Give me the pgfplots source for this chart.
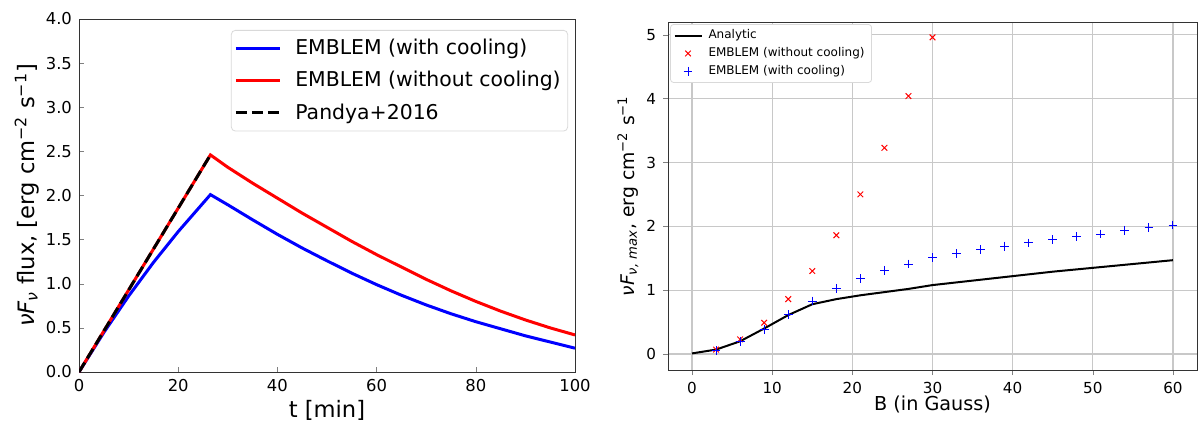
\documentclass[border=0pt]{standalone}
\usepackage{fontspec}
\setmainfont{DejaVu Sans}
\usepackage{pgfplots}
\pgfplotsset{compat=1.18}

\definecolor{mplgrid}{RGB}{200,200,200}
\pgfplotsset{mymarklegend/.style={legend image code/.code={\draw[##1] plot coordinates {(6.75pt,0pt)};}}}

\begin{document}
\begin{tikzpicture}
\useasboundingbox (0,0) rectangle (600pt,212.5pt);
% ---------------- left panel ----------------
\begin{axis}[
  at={(39.5pt,26.5pt)}, anchor=south west,
  scale only axis, width=248pt, height=176.5pt,
  xmin=0, xmax=100, ymin=0, ymax=4,
  xtick={0,20,40,60,80,100},
  ytick={0,0.5,1,1.5,2,2.5,3,3.5,4},
  yticklabel style={/pgf/number format/.cd, fixed, fixed zerofill, precision=1},
  /pgf/number format/assume math mode=true,
  tick label style={font=\fontsize{8.2}{10}\selectfont},
  tick align=inside, xtick pos=left, ytick pos=left,
  major tick length=2.5pt,
  axis line style={black!80, line width=0.5pt},
  xlabel={t [min]},
  ylabel={{\itshape νF}\textsubscript{\itshape ν} flux, [erg cm\textsuperscript{−2} s\textsuperscript{−1}]},
  every axis x label/.style={at={(axis description cs:0.5,-0.108)}, anchor=center, font=\fontsize{11.3}{13}\selectfont},
  every axis y label/.style={at={(axis description cs:-0.105,0.5)}, rotate=90, anchor=center, font=\fontsize{11.3}{13}\selectfont},
  legend style={at={(0.986,0.969)}, anchor=north east, draw=black!15, rounded corners=2pt,
    font=\fontsize{10.2}{12}\selectfont, row sep=2.8pt, inner xsep=1.5pt, inner ysep=2.5pt,
    /tikz/every odd column/.append style={column sep=5pt}},
  legend cell align=left,
  legend image code/.code={\draw[#1] (0pt,0pt) -- (22pt,0pt);},
]
\addplot[blue, line width=1.5pt] coordinates {
 (0,0) (5,0.447) (10,0.860) (15,1.241) (20,1.591) (26.5,2.01)
 (30,1.895) (35,1.725) (40,1.56) (45,1.405) (50,1.26) (55,1.12) (60,0.99)
 (65,0.87) (70,0.76) (75,0.66) (80,0.57) (85,0.49) (90,0.41) (95,0.34) (100,0.27)};
\addlegendentry{EMBLEM (with cooling)}
\addplot[red, line width=1.5pt] coordinates {
 (0,0) (26.5,2.46) (30,2.32) (35,2.14) (40,1.97) (45,1.80) (50,1.64) (55,1.48)
 (60,1.33) (65,1.19) (70,1.05) (75,0.92) (80,0.80) (85,0.69) (90,0.59) (95,0.50) (100,0.42)};
\addlegendentry{EMBLEM (without cooling)}
\addplot[black, line width=1.5pt, dash pattern=on 5.5pt off 2.5pt] coordinates {
 (0,0) (26.5,2.46)};
\addlegendentry{Pandya+2016}
\node[anchor=south west, inner sep=0pt, font=\fontsize{5.8}{7}\selectfont] at (rel axis cs:0,1) [yshift=1.8pt] {1e−11};
\end{axis}
% ---------------- right panel ----------------
\begin{axis}[
  at={(334pt,27.5pt)}, anchor=south west,
  scale only axis, width=264.5pt, height=174pt,
  xmin=-3, xmax=63, ymin=-0.25, ymax=5.2,
  xtick={0,10,20,30,40,50,60},
  ytick={0,1,2,3,4,5},
  /pgf/number format/assume math mode=true,
  tick label style={font=\fontsize{7.6}{9}\selectfont},
  tick align=outside, xtick pos=left, ytick pos=left,
  major tick length=2.5pt,
  grid=major, grid style={mplgrid, line width=0.6pt},
  axis line style={black!80, line width=0.5pt},
  xlabel={B (in Gauss)},
  ylabel={{\itshape νF}\textsubscript{\itshape ν, max}, erg cm\textsuperscript{−2} s\textsuperscript{−1}},
  every axis x label/.style={at={(axis description cs:0.5,-0.10)}, anchor=center, font=\fontsize{9.6}{11}\selectfont},
  every axis y label/.style={at={(axis description cs:-0.0756,0.5)}, rotate=90, anchor=center, font=\fontsize{9.4}{11}\selectfont},
  legend style={at={(0.004,0.994)}, anchor=north west, draw=black!15, rounded corners=1.5pt,
    font=\fontsize{6}{7}\selectfont, row sep=0.9pt, inner xsep=1.5pt, inner ysep=1.5pt,
    nodes={inner xsep=2pt, inner ysep=1pt},
    /tikz/every odd column/.append style={column sep=1pt}},
  legend cell align=left,
]
\addplot[black, line width=1pt, legend image code/.code={\draw[black, line width=1pt] (0pt,0pt) -- (13.5pt,0pt);}] coordinates {
 (0,0.01) (3,0.07) (6,0.20) (9,0.40) (12,0.61) (15,0.78) (18,0.86) (21,0.92)
 (24,0.97) (27,1.02) (30,1.08) (35,1.15) (40,1.22) (45,1.29) (50,1.35) (55,1.41) (60,1.47)};
\addlegendentry{Analytic}
\addplot[only marks, red, mark=x, mark size=2pt, line width=0.5pt, mymarklegend] coordinates {
 (3,0.07) (6,0.23) (9,0.49) (12,0.86) (15,1.30) (18,1.86) (21,2.50) (24,3.23) (27,4.04) (30,4.96)};
\addlegendentry{EMBLEM (without cooling)}
\addplot[only marks, blue, mark=+, mark size=2.2pt, line width=0.5pt, mymarklegend] coordinates {
 (3,0.05) (6,0.20) (9,0.39) (12,0.62) (15,0.83) (18,1.03) (21,1.18) (24,1.31) (27,1.41)
 (30,1.51) (33,1.57) (36,1.64) (39,1.69) (42,1.74) (45,1.79) (48,1.84) (51,1.88) (54,1.94) (57,1.98) (60,2.02)};
\addlegendentry{EMBLEM (with cooling)}
\node[anchor=south west, inner sep=0pt, font=\fontsize{5.8}{7}\selectfont] at (rel axis cs:0,1) [yshift=1.5pt] {1e−12};
\end{axis}
\end{tikzpicture}
\end{document}
